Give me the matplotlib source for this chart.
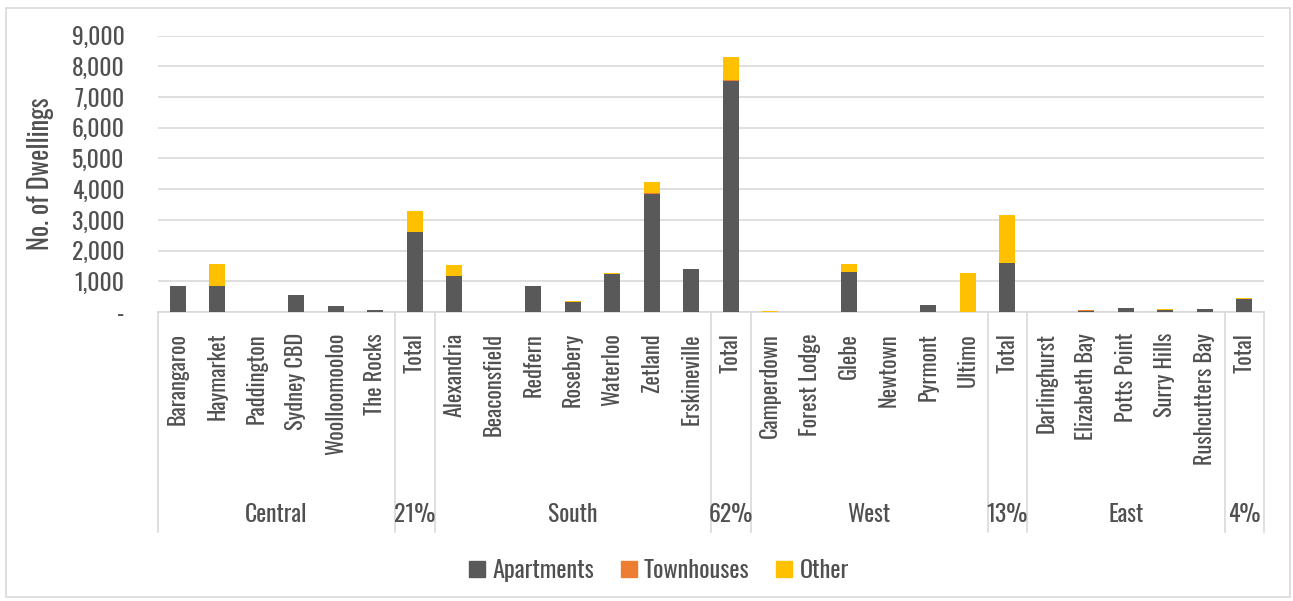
import matplotlib
matplotlib.use("Agg")
import matplotlib.pyplot as plt
from matplotlib.patches import Rectangle
from matplotlib.lines import Line2D
import numpy as np

plt.rcParams['font.family'] = ['Oswald', 'DejaVu Sans']

# suburbs and region totals, in chart order
suburbs = ['Barangaroo', 'Haymarket', 'Paddington', 'Sydney CBD', 'Woolloomooloo', 'The Rocks', 'Total',
           'Alexandria', 'Beaconsfield', 'Redfern', 'Rosebery', 'Waterloo', 'Zetland', 'Erskineville', 'Total',
           'Camperdown', 'Forest Lodge', 'Glebe', 'Newtown', 'Pyrmont', 'Ultimo', 'Total',
           'Darlinghurst', 'Elizabeth Bay', 'Potts Point', 'Surry Hills', 'Rushcutters Bay', 'Total']

apartments = [850, 850, 0, 545, 200, 65, 2590,
              1175, 0, 850, 325, 1230, 3845, 1385, 7516,
              0, 0, 1317, 0, 218, 0, 1580,
              0, 45, 120, 55, 100, 415]
townhouses = [0, 0, 0, 0, 0, 0, 0,
              0, 0, 0, 0, 0, 30, 0, 55,
              0, 0, 0, 0, 0, 0, 30,
              0, 10, 0, 0, 0, 0]
other = [0, 710, 0, 0, 0, 0, 710,
         350, 0, 0, 35, 45, 375, 30, 740,
         20, 0, 243, 0, 0, 1285, 1550,
         15, 0, 0, 35, 0, 35]

groups = ['Central', '21%', 'South', '62%', 'West', '13%', 'East', '4%']
group_sizes = [6, 1, 7, 1, 6, 1, 5, 1]

C_APT = '#595959'
C_TOWN = '#ED7D31'
C_OTHER = '#FFC000'
C_TEXT = '#505050'
C_GRID = '#D9D9D9'

W, H = 1293, 601
fig = plt.figure(figsize=(W / 100, H / 100), dpi=100)
# plot area in pixels: x 158..1264, y 35.7..312
ax = fig.add_axes([158 / W, (H - 312) / H, (1264 - 158) / W, (312 - 35.7) / H])

x = np.arange(len(suburbs))
apt = np.array(apartments)
town = np.array(townhouses)
oth = np.array(other)
ax.bar(x, apt, width=0.4, color=C_APT, zorder=3)
ax.bar(x, town, width=0.4, bottom=apt, color=C_TOWN, zorder=3)
ax.bar(x, oth, width=0.4, bottom=apt + town, color=C_OTHER, zorder=3)

ax.set_xlim(-0.5, len(suburbs) - 0.5)
ax.set_ylim(0, 9000)
ax.set_yticks(np.arange(0, 9001, 1000))
ax.set_yticklabels(['-' if v == 0 else f'{v:,}' for v in range(0, 9001, 1000)])
ax.yaxis.grid(True, color=C_GRID, linewidth=1.2, zorder=0)
ax.tick_params(axis='y', length=0, pad=24, labelsize=17, labelcolor=C_TEXT)
ax.tick_params(axis='x', length=0, labelbottom=False)
for s in ['top', 'right', 'left']:
    ax.spines[s].set_visible(False)
ax.spines['bottom'].set_color(C_GRID)
ax.spines['bottom'].set_linewidth(1.2)

ax.set_ylabel('No. of Dwellings', fontsize=19, color=C_TEXT)
ax.yaxis.set_label_coords(-0.094, 0.5)

# multi-level category axis
ax_h = 312 - 35.7
tr = ax.get_xaxis_transform()
for i, name in enumerate(suburbs):
    ax.text(i, -21 / ax_h, name, transform=tr, rotation=90, ha='center', va='top',
            fontsize=16, color=C_TEXT, clip_on=False)

bounds = np.concatenate([[0], np.cumsum(group_sizes)]) - 0.5
for b in bounds:
    ax.add_line(Line2D([b, b], [0, -220 / ax_h], transform=tr, color=C_GRID,
                       linewidth=1.2, clip_on=False))
for g, lo, hi in zip(groups, bounds[:-1], bounds[1:]):
    ax.text((lo + hi) / 2, -202 / ax_h, g, transform=tr, ha='center', va='center',
            fontsize=17, color=C_TEXT, clip_on=False)

handles = [Rectangle((0, 0), 1, 1, color=c) for c in (C_APT, C_TOWN, C_OTHER)]
fig.legend(handles, ['Apartments', 'Townhouses', 'Other'], loc='center',
           bbox_to_anchor=(659 / W, (H - 570) / H), ncol=3, frameon=False,
           fontsize=17.5, labelcolor=C_TEXT, handlelength=0.65, handleheight=0.65,
           handletextpad=0.3, columnspacing=1.1)

# chart border
fig.add_artist(Rectangle((6 / W, 4 / H), (1290 - 6) / W, (597 - 8) / H,
                         transform=fig.transFigure, fill=False, edgecolor=C_GRID,
                         linewidth=1.2))

fig.savefig('out.png', dpi=100)
